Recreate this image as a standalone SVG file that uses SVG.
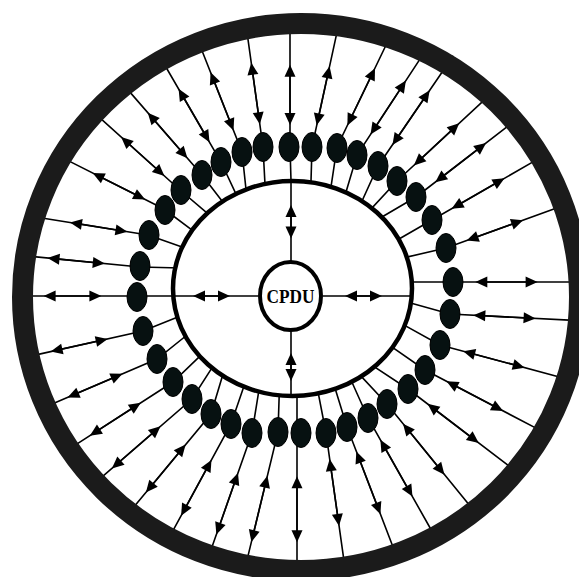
<svg xmlns="http://www.w3.org/2000/svg" width="579" height="577" viewBox="0 0 579 577">
<style>
.ln{fill:none;stroke:#000;stroke-width:1.6}
.ar{fill:none;stroke:#000;stroke-width:1.6;marker-start:url(#ah);marker-end:url(#ah)}
.dot{fill:#071111;stroke:#000;stroke-width:1}
.ring{fill:none;stroke:#1b1b1b;stroke-width:21}
.inner{fill:#fff;stroke:#000;stroke-width:4.5}
.cp{fill:#fff;stroke:#000;stroke-width:4}
.lbl{font-family:"Liberation Serif","Times New Roman",serif;font-weight:bold;font-size:19.5px;fill:#000}
</style>
<defs>
<marker id="ah" markerUnits="userSpaceOnUse" markerWidth="16" markerHeight="16" viewBox="-8 -8 16 16" refX="0" refY="0" orient="auto-start-reverse" overflow="visible">
<path d="M-6,-5.5 L6,0 L-6,5.5 z" fill="#000"/>
</marker>
</defs>
<rect x="0" y="0" width="579" height="577" fill="#fff"/>
<g id="connectors">
<path class="ln" d="M179,296 L137,296 L27,296"/>
<path class="ln" d="M181,268 L140,267 L31,256.4"/>
<path class="ln" d="M187.7,249 L148,235 L35.6,217"/>
<path class="ln" d="M196.8,233.6 L164,209 L61.2,157.1"/>
<path class="ln" d="M211.6,216.9 L180,190 L95.2,113.7"/>
<path class="ln" d="M225.7,205.8 L202,175 L123.6,84.9"/>
<path class="ln" d="M238.5,199.4 L221,162 L159.5,56"/>
<path class="ln" d="M246.6,195 L242,152 L196.4,36.5"/>
<path class="ln" d="M265.3,190 L263,147 L246,25.1"/>
<path class="ln" d="M291.2,187 L290,147 L290,28"/>
<path class="ln" d="M310.8,188 L312,147 L337.4,30.4"/>
<path class="ln" d="M330.1,192.9 L337,147 L392.1,32.5"/>
<path class="ln" d="M344.3,197.8 L357,155 L428,46.9"/>
<path class="ln" d="M359.5,206.5 L378,166 L453.3,55.8"/>
<path class="ln" d="M367.9,212.4 L397,181 L487.1,97.3"/>
<path class="ln" d="M376.8,220 L416,197 L517.8,118.6"/>
<path class="ln" d="M393.8,242 L432,220 L536.9,159.6"/>
<path class="ln" d="M401.2,258.4 L446,248 L557.3,207.7"/>
<path class="ln" d="M406,282 L452,282 L576,282"/>
<path class="ln" d="M405.2,301.4 L450,314 L574,320.4"/>
<path class="ln" d="M398.8,322.1 L440,345 L563,377.9"/>
<path class="ln" d="M387.1,343.6 L425,370 L538.4,429.4"/>
<path class="ln" d="M368,362.7 L408,389 L510.8,467.4"/>
<path class="ln" d="M355.9,370.6 L387,404 L470.7,506.8"/>
<path class="ln" d="M348.5,374.5 L368,418 L432.7,532.5"/>
<path class="ln" d="M333.2,382.3 L347,427 L395.8,554.2"/>
<path class="ln" d="M316.9,386.1 L326,433 L345.1,568.7"/>
<path class="ln" d="M297,388 L297,433 L297,563"/>
<path class="ln" d="M279.4,389 L278,432 L246.2,563.4"/>
<path class="ln" d="M259.9,384.2 L252,433 L209.6,553.8"/>
<path class="ln" d="M245.9,380.6 L231,424 L171.6,533.2"/>
<path class="ln" d="M223.5,372.5 L211,414 L133.6,507.3"/>
<path class="ln" d="M214.5,363.9 L192,399 L96.6,481.7"/>
<path class="ln" d="M205.7,350.7 L173,382 L74.4,445.6"/>
<path class="ln" d="M191.4,331.5 L157,359 L51,404.6"/>
<path class="ln" d="M184.1,314.5 L143,331 L33.8,355.4"/>
<path class="ar" d="M95.4,296 L49.6,296"/>
<path class="ar" d="M98.8,263 L53.5,258.6"/>
<path class="ar" d="M121.5,230.8 L75.9,223.4"/>
<path class="ar" d="M139.8,196.8 L98,175.7"/>
<path class="ar" d="M160,172 L125.6,141"/>
<path class="ar" d="M183.5,153.8 L151.7,117.2"/>
<path class="ar" d="M206.5,137 L181.6,94"/>
<path class="ar" d="M231.3,124.8 L212.8,77.9"/>
<path class="ar" d="M259,118.3 L252.1,68.8"/>
<path class="ar" d="M290,119 L290,70.8"/>
<path class="ar" d="M318,119.5 L328.3,72.2"/>
<path class="ar" d="M350,120 L372.4,73.6"/>
<path class="ar" d="M373.8,129.5 L402.6,85.6"/>
<path class="ar" d="M395.8,140 L426.3,95.3"/>
<path class="ar" d="M418.3,161.3 L454.8,127.3"/>
<path class="ar" d="M440,178.5 L481.3,146.7"/>
<path class="ar" d="M456.8,205.8 L499.3,181.2"/>
<path class="ar" d="M472.3,238.5 L517.4,222.2"/>
<path class="ar" d="M481.3,282 L531.6,282"/>
<path class="ar" d="M479.3,315.5 L529.6,318.1"/>
<path class="ar" d="M469,352.8 L518.9,366.1"/>
<path class="ar" d="M451.8,384 L497.8,408.1"/>
<path class="ar" d="M432.3,407.5 L474,439.3"/>
<path class="ar" d="M406.8,428.3 L440.7,470"/>
<path class="ar" d="M383.3,445 L409.5,491.4"/>
<path class="ar" d="M358.5,457 L378.3,508.6"/>
<path class="ar" d="M330.5,465 L338.2,520"/>
<path class="ar" d="M297,482.2 L297,536.3"/>
<path class="ar" d="M266,481.6 L252.8,536.2"/>
<path class="ar" d="M236,478.6 L218.4,528.8"/>
<path class="ar" d="M208.6,465.2 L184,510.5"/>
<path class="ar" d="M181.8,449.2 L149.7,487.9"/>
<path class="ar" d="M156,430.2 L116.4,464.5"/>
<path class="ar" d="M135.8,406 L94.9,432.4"/>
<path class="ar" d="M117,376.2 L73,395.1"/>
<path class="ar" d="M101.8,340.2 L56.5,350.3"/>
</g>
<g id="inner-ring"><ellipse class="inner" cx="292.5" cy="288.5" rx="119.5" ry="107.5"/></g>
<g id="cpdu-links">
<path class="ln" d="M173,296 L258,296"/>
<path class="ln" d="M323,296 L412,296"/>
<path class="ln" d="M291,181 L291,262"/>
<path class="ln" d="M291,330 L291,396"/>
<path class="ar" d="M199,296 L224,296"/>
<path class="ar" d="M351,296 L376,296"/>
<path class="ar" d="M291,232.5 L291,211"/>
<path class="ar" d="M291,375 L291,359"/>
</g>
<g id="dots">
<g id="d1"><ellipse class="dot" cx="137" cy="297" rx="10" ry="14.5"/></g>
<g id="d2"><ellipse class="dot" cx="140" cy="266" rx="10" ry="14.5"/></g>
<g id="d3"><ellipse class="dot" cx="149" cy="235" rx="10" ry="14.5"/></g>
<g id="d4"><ellipse class="dot" cx="165" cy="210" rx="10" ry="14.5"/></g>
<g id="d5"><ellipse class="dot" cx="181" cy="190" rx="10" ry="14.5"/></g>
<g id="d6"><ellipse class="dot" cx="202" cy="175" rx="10" ry="14.5"/></g>
<g id="d7"><ellipse class="dot" cx="221" cy="162" rx="10" ry="14.5"/></g>
<g id="d8"><ellipse class="dot" cx="242" cy="152" rx="10" ry="14.5"/></g>
<g id="d9"><ellipse class="dot" cx="263" cy="147" rx="10" ry="14.5"/></g>
<g id="d10"><ellipse class="dot" cx="289" cy="147" rx="10" ry="14.5"/></g>
<g id="d11"><ellipse class="dot" cx="312" cy="147" rx="10" ry="14.5"/></g>
<g id="d12"><ellipse class="dot" cx="337" cy="148" rx="10" ry="14.5"/></g>
<g id="d13"><ellipse class="dot" cx="357" cy="155" rx="10" ry="14.5"/></g>
<g id="d14"><ellipse class="dot" cx="378" cy="166" rx="10" ry="14.5"/></g>
<g id="d15"><ellipse class="dot" cx="397" cy="181" rx="10" ry="14.5"/></g>
<g id="d16"><ellipse class="dot" cx="416" cy="197" rx="10" ry="14.5"/></g>
<g id="d17"><ellipse class="dot" cx="432" cy="220" rx="10" ry="14.5"/></g>
<g id="d18"><ellipse class="dot" cx="446" cy="248" rx="10" ry="14.5"/></g>
<g id="d19"><ellipse class="dot" cx="453" cy="282" rx="10" ry="14.5"/></g>
<g id="d20"><ellipse class="dot" cx="450" cy="314" rx="10" ry="14.5"/></g>
<g id="d21"><ellipse class="dot" cx="440" cy="345" rx="10" ry="14.5"/></g>
<g id="d22"><ellipse class="dot" cx="425" cy="370" rx="10" ry="14.5"/></g>
<g id="d23"><ellipse class="dot" cx="408" cy="389" rx="10" ry="14.5"/></g>
<g id="d24"><ellipse class="dot" cx="387" cy="404" rx="10" ry="14.5"/></g>
<g id="d25"><ellipse class="dot" cx="368" cy="418" rx="10" ry="14.5"/></g>
<g id="d26"><ellipse class="dot" cx="347" cy="427" rx="10" ry="14.5"/></g>
<g id="d27"><ellipse class="dot" cx="326" cy="433" rx="10" ry="14.5"/></g>
<g id="d28"><ellipse class="dot" cx="301" cy="433" rx="10" ry="14.5"/></g>
<g id="d29"><ellipse class="dot" cx="278" cy="432" rx="10" ry="14.5"/></g>
<g id="d30"><ellipse class="dot" cx="252" cy="433" rx="10" ry="14.5"/></g>
<g id="d31"><ellipse class="dot" cx="231" cy="424" rx="10" ry="14.5"/></g>
<g id="d32"><ellipse class="dot" cx="211" cy="414" rx="10" ry="14.5"/></g>
<g id="d33"><ellipse class="dot" cx="192" cy="399" rx="10" ry="14.5"/></g>
<g id="d34"><ellipse class="dot" cx="173" cy="382" rx="10" ry="14.5"/></g>
<g id="d35"><ellipse class="dot" cx="157" cy="359" rx="10" ry="14.5"/></g>
<g id="d36"><ellipse class="dot" cx="143" cy="331" rx="10" ry="14.5"/></g>
</g>
<g id="outer-ring"><ellipse class="ring" cx="301" cy="297" rx="278.5" ry="273.5"/></g>
<g id="cpdu">
<ellipse class="cp" cx="290.5" cy="296" rx="30.5" ry="34"/>
<text class="lbl" x="290.5" y="302.5" text-anchor="middle" textLength="48" lengthAdjust="spacingAndGlyphs">CPDU</text>
</g>
</svg>
